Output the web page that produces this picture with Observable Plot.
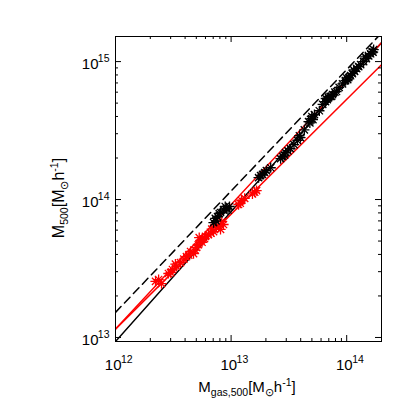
<!DOCTYPE html>
<html><head><meta charset="utf-8">
<script src="https://cdn.jsdelivr.net/npm/d3@7"></script>
<script src="https://cdn.jsdelivr.net/npm/@observablehq/plot@0.6"></script>
<style>body{margin:0;background:#fff}svg{display:block}</style>
</head><body><div id="chart"></div>
<script>
// Black points (Mgas,500 , M500)
const blackMgas = [7.05e12,7.3e12,7.4e12,7.63e12,7.9e12,8.10e12,8.6e12,8.9e12,9.12e12,9.4e12,9.69e12,
  1.73e13,1.80e13,1.87e13,1.95e13,2.02e13,2.2e13,
  2.68e13,2.8e13,2.9e13,2.96e13,3.1e13,3.26e13,3.5e13,3.75e13,3.9e13,3.98e13,
  4.3e13,4.68e13,4.8e13,4.96e13,5.0e13,5.1e13,5.26e13,5.8e13,
  6.2e13,6.56e13,6.6e13,6.8e13,6.96e13,7.2e13,7.4e13,7.54e13,7.9e13,8.16e13,8.6e13,9.2e13,
  9.77e13,1.0e14,1.02e14,1.04e14,1.08e14,1.12e14,1.15e14,1.17e14,1.22e14,1.27e14,1.32e14,
  1.40e14,1.45e14,1.48e14,1.55e14,1.61e14,1.66e14,1.69e14,1.71e14];
const blackM500 = [6.81e13,7.3e13,7.0e13,7.53e13,7.9e13,8.05e13,8.4e13,8.9e13,8.61e13,8.4e13,8.90e13,
  1.44e14,1.49e14,1.52e14,1.57e14,1.62e14,1.70e14,
  1.98e14,2.05e14,2.1e14,2.19e14,2.25e14,2.34e14,2.5e14,2.68e14,2.9e14,2.81e14,
  3.2e14,3.67e14,3.6e14,3.86e14,4.0e14,3.8e14,4.13e14,4.4e14,
  4.9e14,5.13e14,5.4e14,5.3e14,5.48e14,5.6e14,5.6e14,5.77e14,6.0e14,6.07e14,6.5e14,6.9e14,
  7.28e14,7.6e14,7.4e14,7.66e14,7.9e14,8.18e14,8.7e14,8.5e14,8.89e14,9.2e14,9.51e14,
  1.0e15,1.08e15,1.05e15,1.10e15,1.14e15,1.18e15,1.17e15,1.22e15];
// Red points
const redMgas = [2.22e12,2.36e12,2.50e12,
  2.87e12,3.0e12,3.11e12,3.3e12,3.37e12,3.65e12,3.9e12,
  4.11e12,4.3e12,4.46e12,4.73e12,4.9e12,5.02e12,5.2e12,5.3e12,
  5.43e12,5.6e12,5.89e12,6.0e12,6.37e12,6.7e12,6.8e12,
  7.05e12,7.3e12,7.48e12,7.8e12,8.10e12,8.3e12,8.59e12,
  1.16e13,1.2e13,1.23e13,1.31e13,1.53e13,1.6e13,1.66e13];
const redM500 = [2.55e13,2.63e13,2.46e13,
  2.91e13,2.95e13,3.11e13,3.4e13,3.27e13,3.49e13,3.7e13,
  3.86e13,3.95e13,4.20e13,4.06e13,4.3e13,4.49e13,4.7e13,5.3e13,
  5.05e13,4.9e13,5.21e13,5.4e13,5.57e13,5.7e13,6.1e13,
  5.86e13,6.6e13,6.27e13,6.4e13,6.07e13,6.9e13,6.59e13,
  9.20e13,9.4e13,9.84e13,1.02e14,1.10e14,1.13e14,1.16e14];
// Relations (end points)
const lineMgas   = [1e12, 2e14];
const dashedM500 = [1.52e13, 1.61e15];
const solidM500  = [9.35e12, 1.37e15];
const redUpM500  = [1.15e13, 1.37e15];
const redLoM500  = [1.15e13, 9.5e14];
// Ticks
const xMajor = [1e12, 1e13, 1e14];
const yMajor = [1e13, 1e14, 1e15];
const xMinor = [2e12,3e12,4e12,5e12,6e12,7e12,8e12,9e12,2e13,3e13,4e13,5e13,6e13,7e13,8e13,9e13];
const yMinor = [2e13,3e13,4e13,5e13,6e13,7e13,8e13,9e13,2e14,3e14,4e14,5e14,6e14,7e14,8e14,9e14];

const black = blackMgas.map((x,i)=>({x, y: blackM500[i]}));
const red = redMgas.map((x,i)=>({x, y: redM500[i]}));
const mk = ys => lineMgas.map((x,i)=>({x, y: ys[i]}));

const FH = 305, FW = 266;
const R = 3.4, SW = 1.3;
const plot = Plot.plot({
  width: 415, height: 415,
  marginLeft: 115, marginRight: 34, marginTop: 36, marginBottom: 74,
  x: {type: "log", domain: [1e12, 2e14], axis: null},
  y: {type: "log", domain: [9.35e12, 1.52e15], axis: null},
  style: {fontFamily: "'Liberation Sans', Arial, Helvetica, sans-serif", background: "white", color: "black"},
  marks: [
    Plot.line(mk(dashedM500), {x:"x", y:"y", stroke:"black", strokeWidth:1.5, strokeDasharray:"8,5", clip:true}),
    Plot.line(mk(solidM500), {x:"x", y:"y", stroke:"black", strokeWidth:1.5, clip:true}),
    Plot.line(mk(redLoM500), {x:"x", y:"y", stroke:"red", strokeWidth:1.5, clip:true}),
    Plot.line(mk(redUpM500), {x:"x", y:"y", stroke:"red", strokeWidth:1.5, clip:true}),
    Plot.dot(red, {x:"x", y:"y", symbol:"plus", r:R, stroke:"red", strokeWidth:SW}),
    Plot.dot(red, {x:"x", y:"y", symbol:"times", r:R, stroke:"red", strokeWidth:SW}),
    Plot.dot(black, {x:"x", y:"y", symbol:"plus", r:R, stroke:"black", strokeWidth:SW}),
    Plot.dot(black, {x:"x", y:"y", symbol:"times", r:R, stroke:"black", strokeWidth:SW}),
    Plot.frame({stroke:"black", strokeWidth:1}),
    Plot.tickX(xMajor, {x:d=>d, insetTop:FH-6, stroke:"black"}),
    Plot.tickX(xMajor, {x:d=>d, insetBottom:FH-6, stroke:"black"}),
    Plot.tickX(xMinor, {x:d=>d, insetTop:FH-3, stroke:"black"}),
    Plot.tickX(xMinor, {x:d=>d, insetBottom:FH-3, stroke:"black"}),
    Plot.tickY(yMajor, {y:d=>d, insetRight:FW-6, stroke:"black"}),
    Plot.tickY(yMajor, {y:d=>d, insetLeft:FW-6, stroke:"black"}),
    Plot.tickY(yMinor, {y:d=>d, insetRight:FW-3, stroke:"black"}),
    Plot.tickY(yMinor, {y:d=>d, insetLeft:FW-3, stroke:"black"}),
    Plot.text(xMajor, {x:d=>d, frameAnchor:"bottom", text:()=>"10", textAnchor:"end", lineAnchor:"middle", dx:6, dy:24, fontSize:15, fill:"black"}),
    Plot.text(xMajor, {x:d=>d, frameAnchor:"bottom", text:d=>String(Math.round(Math.log10(d))), textAnchor:"start", lineAnchor:"middle", dx:5.5, dy:18, fontSize:10.5, fill:"black"}),
    Plot.text(yMajor, {y:d=>d, frameAnchor:"left", text:()=>"10", textAnchor:"end", lineAnchor:"middle", dx:-17, dy:2.5, fontSize:15, fill:"black"}),
    Plot.text(yMajor, {y:d=>d, frameAnchor:"left", text:d=>String(Math.round(Math.log10(d))), textAnchor:"end", lineAnchor:"middle", dx:-6, dy:-3, fontSize:10.5, fill:"black"})
  ]
});
document.getElementById("chart").appendChild(plot);

const svg = d3.select(plot);
function title(sel, sub, size, subSize) {
  sel.attr("text-anchor","middle").attr("font-size", size).attr("fill","black")
     .style("font-family","'Liberation Sans', Arial, Helvetica, sans-serif");
  sel.append("tspan").text("M");
  sel.append("tspan").attr("font-size", subSize).attr("dy", 4).text(sub);
  sel.append("tspan").attr("dy", -4).text("[M");
  sel.append("tspan").attr("font-size", subSize).attr("dy", 4).text("\u2299");
  sel.append("tspan").attr("dy", -4).text("h");
  sel.append("tspan").attr("font-size", subSize).attr("dy", -6).text("-1");
  sel.append("tspan").attr("dy", 6).text("]");
}
title(svg.append("text").attr("x", 247).attr("y", 392), "gas,500", 15, 10.5);
title(svg.append("text").attr("transform", "translate(64,198) rotate(-90)"), "500", 16, 10.5);
</script>
</body></html>
